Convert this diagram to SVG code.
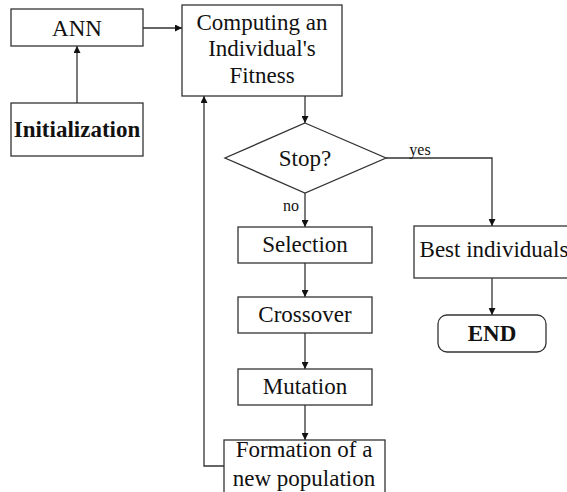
<svg xmlns="http://www.w3.org/2000/svg" width="567" height="492" viewBox="0 0 567 492">
  <defs>
    <style>
      .box { fill: #fff; stroke: #333; stroke-width: 1.3; }
      .line { fill: none; stroke: #333; stroke-width: 1.3; }
      text { font-family: "Liberation Serif", "Times New Roman", serif; font-size: 23px; fill: #111; text-anchor: middle; }
      .bold { font-weight: bold; }
      .small { font-size: 16px; }
    </style>
    <marker id="arrow" viewBox="0 0 10 10" refX="10" refY="5" markerWidth="9" markerHeight="7" markerUnits="userSpaceOnUse" orient="auto">
      <path d="M0,0 L10,5 L0,10 z" fill="#111"/>
    </marker>
  </defs>
  <rect width="567" height="492" fill="#fff"/>

  <g id="connectors">
    <line class="line" x1="77" y1="103" x2="77" y2="46" marker-end="url(#arrow)"/>
    <line class="line" x1="143" y1="28" x2="182" y2="28" marker-end="url(#arrow)"/>
    <line class="line" x1="305" y1="96" x2="305" y2="123" marker-end="url(#arrow)"/>
    <line class="line" x1="305" y1="193" x2="305" y2="227" marker-end="url(#arrow)"/>
    <line class="line" x1="305" y1="263" x2="305" y2="297" marker-end="url(#arrow)"/>
    <line class="line" x1="305" y1="333" x2="305" y2="369" marker-end="url(#arrow)"/>
    <line class="line" x1="305" y1="405" x2="305" y2="440" marker-end="url(#arrow)"/>
    <polyline class="line" points="224,466 204,466 204,96" marker-end="url(#arrow)"/>
    <polyline class="line" points="386,158 492,158 492,226" marker-end="url(#arrow)"/>
    <line class="line" x1="492" y1="278" x2="492" y2="315" marker-end="url(#arrow)"/>
    <text class="small" x="291" y="211">no</text>
    <text class="small" x="420" y="155">yes</text>
  </g>

  <g id="ann">
    <rect class="box" x="11" y="9" width="132" height="37"/>
    <text x="77" y="36">ANN</text>
  </g>

  <g id="initialization">
    <rect class="box" x="11" y="103" width="132" height="53"/>
    <text class="bold" x="77" y="137">Initialization</text>
  </g>

  <g id="fitness">
    <rect class="box" x="182" y="5" width="160" height="91"/>
    <text x="262" y="30">Computing an</text>
    <text x="262" y="56">Individual's</text>
    <text x="262" y="83">Fitness</text>
  </g>

  <g id="stop">
    <polygon class="box" points="305,123 386,158 305,193 225,158"/>
    <text x="305" y="166">Stop?</text>
  </g>

  <g id="selection">
    <rect class="box" x="238" y="227" width="134" height="36"/>
    <text x="305" y="252">Selection</text>
  </g>

  <g id="crossover">
    <rect class="box" x="238" y="297" width="134" height="36"/>
    <text x="305" y="322">Crossover</text>
  </g>

  <g id="mutation">
    <rect class="box" x="238" y="369" width="134" height="36"/>
    <text x="305" y="394">Mutation</text>
  </g>

  <g id="formation">
    <rect class="box" x="224" y="440" width="161" height="60"/>
    <text x="304" y="457">Formation of a</text>
    <text x="304" y="486">new population</text>
  </g>

  <g id="best">
    <rect class="box" x="414" y="226" width="160" height="52"/>
    <text x="494" y="257">Best individuals</text>
  </g>

  <g id="end">
    <rect class="box" x="438" y="315" width="108" height="37" rx="9" ry="9"/>
    <text class="bold" x="492" y="341">END</text>
  </g>
</svg>
